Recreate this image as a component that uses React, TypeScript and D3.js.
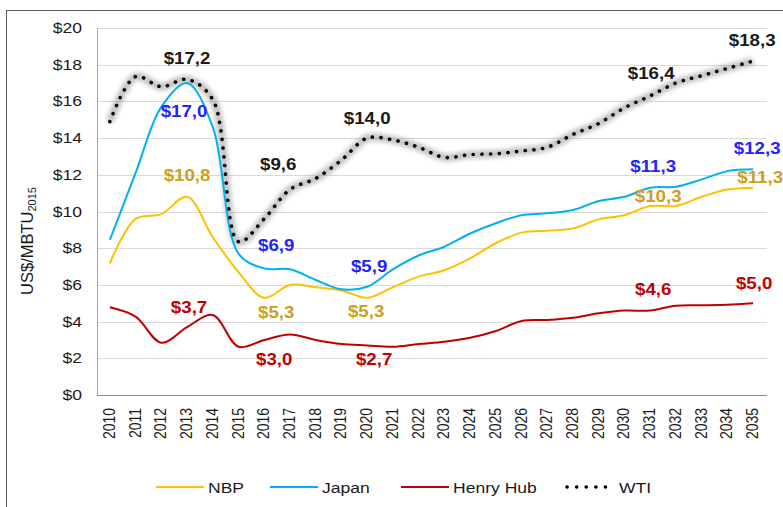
import React from "react";
import * as d3 from "d3";

const years = ["2010","2011","2012","2013","2014","2015","2016","2017","2018","2019","2020","2021","2022","2023","2024","2025","2026","2027","2028","2029","2030","2031","2032","2033","2034","2035"];
const wti = [14.9, 17.35, 16.8, 17.2, 16.1, 8.35, 9.6, 11.2, 11.8, 12.8, 14.0, 13.9, 13.5, 12.95, 13.1, 13.15, 13.3, 13.5, 14.2, 14.8, 15.65, 16.3, 17.0, 17.4, 17.8, 18.2];
const japan = [8.45, 12.1, 15.7, 17.0, 14.6, 7.7, 6.9, 6.85, 6.27, 5.76, 5.9, 6.85, 7.6, 8.08, 8.8, 9.36, 9.8, 9.9, 10.08, 10.57, 10.8, 11.3, 11.35, 11.75, 12.2, 12.3];
const nbp = [7.18, 9.6, 9.86, 10.8, 8.6, 6.7, 5.3, 6.0, 5.87, 5.7, 5.3, 5.87, 6.45, 6.8, 7.45, 8.27, 8.85, 8.95, 9.08, 9.57, 9.8, 10.3, 10.3, 10.8, 11.2, 11.3];
const henryHub = [4.78, 4.27, 2.85, 3.7, 4.36, 2.63, 3.0, 3.3, 3.0, 2.78, 2.7, 2.63, 2.78, 2.9, 3.12, 3.49, 4.03, 4.09, 4.21, 4.45, 4.6, 4.6, 4.87, 4.89, 4.92, 5.0];
const yTicks = [0, 2, 4, 6, 8, 10, 12, 14, 16, 18, 20];
const legendNames = ["NBP", "Japan", "Henry Hub", "WTI"];

// value labels: series, year, text
const labelSeries = ["wti","japan","nbp","wti","japan","nbp","japan","nbp","henry","henry","henry","wti","wti","wti","japan","nbp","japan","nbp","henry","henry"];
const labelYears = ["2013","2013","2013","2016","2016","2016","2020","2020","2016","2020","2013","2020","2031","2035","2035","2035","2031","2031","2031","2035"];
const labelTexts = ["$17,2","$17,0","$10,8","$9,6","$6,9","$5,3","$5,9","$5,3","$3,0","$2,7","$3,7","$14,0","$16,4","$18,3","$12,3","$11,3","$11,3","$10,3","$4,6","$5,0"];
const labelOffsets = [[0,-21],[-3,28],[0,-22],[14,-55],[12,-23],[12,14],[2,-21],[-1,13],[10,19],[7,14],[2,-20],[0,-20],[1,-23],[-1,-21],[4,-21],[7,-11],[3,-22],[8,-10],[3,-22],[1,-20]];

const W = 783, H = 507;
const left = 97, right = 766, top = 28, bottom = 395;
const SX = 1.17;

const colors: Record<string, string> = { nbp: "#ffc000", japan: "#00b0f0", henry: "#c00000", wti: "#000000" };
const labelColors: Record<string, string> = { nbp: "#cc9e22", japan: "#2222ff", henry: "#c00000", wti: "#1a1a1a" };
const seriesData: Record<string, number[]> = { nbp, japan, henry: henryHub, wti };

const FONT = "'Liberation Sans', Arial, sans-serif";

export default function App() {
  const x = d3.scalePoint<string>().domain(years).range([left, right]).padding(0.5);
  const y = d3.scaleLinear().domain([0, 20]).range([bottom, top]);
  const line = d3.line<number>()
    .x((_, i) => x(years[i]) as number)
    .y((d) => y(d))
    .curve(d3.curveCatmullRom.alpha(0.5));

  const tx = (px: number, py: number, rot = 0) =>
    `translate(${px},${py}) scale(${SX},1)` + (rot ? ` rotate(${rot})` : "");

  const legendX = [156, 270, 401, 567];
  const legendKeys = ["nbp", "japan", "henry", "wti"];

  return (
    <svg width={W} height={H} style={{ position: "absolute", left: 0, top: 0, background: "#fff" }} fontFamily={FONT}>
      <defs>
        <filter id="glow" x="-10%" y="-10%" width="120%" height="120%">
          <feGaussianBlur stdDeviation="2.2" />
        </filter>
      </defs>
      <rect x={6.5} y={10.5} width={900} height={600} fill="#fff" stroke="#595959" strokeWidth={1} />
      {yTicks.map((t) => (
        <line key={"g" + t} x1={left} x2={right + 1} y1={Math.round(y(t)) + 0.5} y2={Math.round(y(t)) + 0.5} stroke="#d9d9d9" strokeWidth={1} />
      ))}
      <line x1={left + 0.5} x2={left + 0.5} y1={top} y2={bottom} stroke="#a6a6a6" strokeWidth={1} />
      <line x1={left} x2={right + 1} y1={bottom + 0.5} y2={bottom + 0.5} stroke="#8c8c8c" strokeWidth={1} />
      {yTicks.map((t) => (
        <text key={"yt" + t} transform={tx(82, y(t) + 5)} textAnchor="end" fontSize={15} fill="#1a1a1a">{"$" + t}</text>
      ))}
      {years.map((yr) => (
        <text key={"xt" + yr} transform={tx((x(yr) as number) + 5, 408, -90)} textAnchor="end" fontSize={14} fill="#1a1a1a">{yr}</text>
      ))}
      <text transform={`translate(33,241) rotate(-90)`} textAnchor="middle" fontSize={16.5} fill="#1a1a1a">
        US$/MBTU<tspan fontSize={11} dy={3}>2015</tspan>
      </text>

      {/* series */}
      <path d={line(wti) || ""} fill="none" stroke="#8a8a8a" strokeWidth={8} opacity={0.5} filter="url(#glow)" />
      <path d={line(henryHub) || ""} fill="none" stroke={colors.henry} strokeWidth={2} />
      <path d={line(nbp) || ""} fill="none" stroke={colors.nbp} strokeWidth={2} />
      <path d={line(japan) || ""} fill="none" stroke={colors.japan} strokeWidth={2} />
      <path d={line(wti) || ""} fill="none" stroke="#000" strokeWidth={3.6} strokeDasharray="0.1 8.6" strokeLinecap="round" />

      {labelTexts.map((t, i) => {
        const s = labelSeries[i];
        const yi = years.indexOf(labelYears[i]);
        const px = (x(labelYears[i]) as number) + labelOffsets[i][0];
        const py = y(seriesData[s][yi]) + labelOffsets[i][1];
        return (
          <text key={"l" + i} transform={tx(px, py + 6)} textAnchor="middle" fontSize={16} fontWeight="bold" fill={labelColors[s]}>{t}</text>
        );
      })}

      {legendNames.map((n, i) => {
        const k = legendKeys[i];
        const lx = legendX[i];
        return (
          <g key={"lg" + n}>
            {k === "wti" ? (
              <line x1={lx} x2={lx + 48} y1={487} y2={487} stroke="#000" strokeWidth={3.6} strokeDasharray="0.1 9.5" strokeLinecap="round" />
            ) : (
              <line x1={lx} x2={lx + 48} y1={487} y2={487} stroke={colors[k]} strokeWidth={2} />
            )}
            <text transform={tx(lx + 52, 492.5)} fontSize={15} fill="#1a1a1a">{n}</text>
          </g>
        );
      })}
    </svg>
  );
}
